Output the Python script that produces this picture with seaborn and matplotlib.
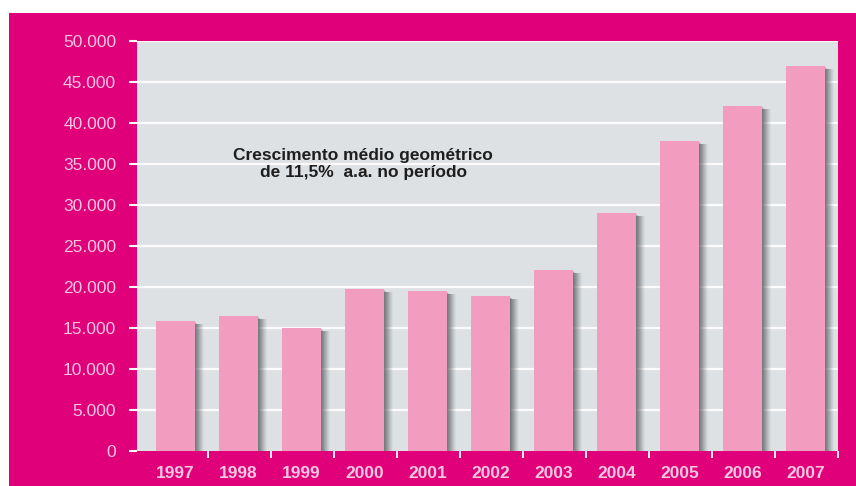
import matplotlib
matplotlib.use("Agg")
import matplotlib.pyplot as plt
import matplotlib.transforms as mtransforms
from matplotlib.patches import Rectangle
import numpy as np
import pandas as pd
import seaborn as sns

# Annual values, 1997-2007
years = ["1997", "1998", "1999", "2000", "2001", "2002",
         "2003", "2004", "2005", "2006", "2007"]
values = [15900, 16450, 15050, 19700, 19550, 18950,
          22100, 29050, 37800, 42050, 46900]
y_ticks = [0, 5000, 10000, 15000, 20000, 25000, 30000, 35000, 40000, 45000, 50000]
y_tick_labels = ["0", "5.000", "10.000", "15.000", "20.000", "25.000",
                 "30.000", "35.000", "40.000", "45.000", "50.000"]
note = "Crescimento médio geométrico\nde 11,5%  a.a. no período"

MAGENTA = "#E0007A"
PINK = "#F29CC0"
PANEL = "#DEE1E4"
LABEL = "#F7C6DF"

df = pd.DataFrame({"ano": years, "valor": values})

sns.set_theme(style="white")
plt.rcParams["font.family"] = ["Liberation Sans", "DejaVu Sans"]

fig = plt.figure(figsize=(8.56, 4.86), dpi=100, facecolor="white")
fig.patches.append(Rectangle((9 / 856, 0), 1, (486 - 13) / 486,
                             transform=fig.transFigure, facecolor=MAGENTA,
                             edgecolor="none", zorder=-10))

ax = fig.add_axes([137 / 856, 35 / 486, 701 / 856, 410 / 486])
ax.set_zorder(1)
ax.set_facecolor(PANEL)

bar_w = 0.62
x = np.arange(len(years))

# soft drop shadow on the right side of each bar
for k in range(1, 10):
    off = mtransforms.ScaledTranslation(k / 100, -min(k, 3) / 100, fig.dpi_scale_trans)
    ax.bar(x, values, width=bar_w, color="#555b5e",
           alpha=0.22 * (1 - k / 10) + 0.03, linewidth=0,
           transform=ax.transData + off, zorder=2)

sns.barplot(data=df, x="ano", y="valor", color=PINK, width=bar_w,
            saturation=1, ax=ax, zorder=3, linewidth=0)

ax.set_xlim(-0.61, 10.52)
ax.set_ylim(0, 50000)

# white gridlines
for t in y_ticks[1:]:
    ax.axhline(t, color="white", lw=1.6, alpha=0.9, zorder=1)

for s in ax.spines.values():
    s.set_visible(False)

ax.set_yticks(y_ticks)
ax.set_yticklabels(y_tick_labels)
ax.tick_params(axis="y", left=True, length=6, width=1.5, color="white",
               labelcolor=LABEL, labelsize=12.5, pad=9)

# category ticks at the bar boundaries, labels centred on the bars
ax.set_xticks(x)
ax.set_xticklabels(years, fontweight="bold")
ax.tick_params(axis="x", bottom=False, labelcolor=LABEL, labelsize=12.5, pad=5)
ax.set_xticks(np.arange(len(years)) + 0.5 + 0.02, minor=True)
ax.tick_params(axis="x", which="minor", bottom=True, length=5, width=1.3,
               color="white", direction="out")
ax.set_xlabel("")
ax.set_ylabel("")

ax.text(2.98, 35000, note, ha="center", va="center", fontsize=12.5,
        fontweight="bold", color="#1e1e1e", linespacing=1.15, zorder=4)

fig.savefig("out.png", dpi=100, facecolor="white")
